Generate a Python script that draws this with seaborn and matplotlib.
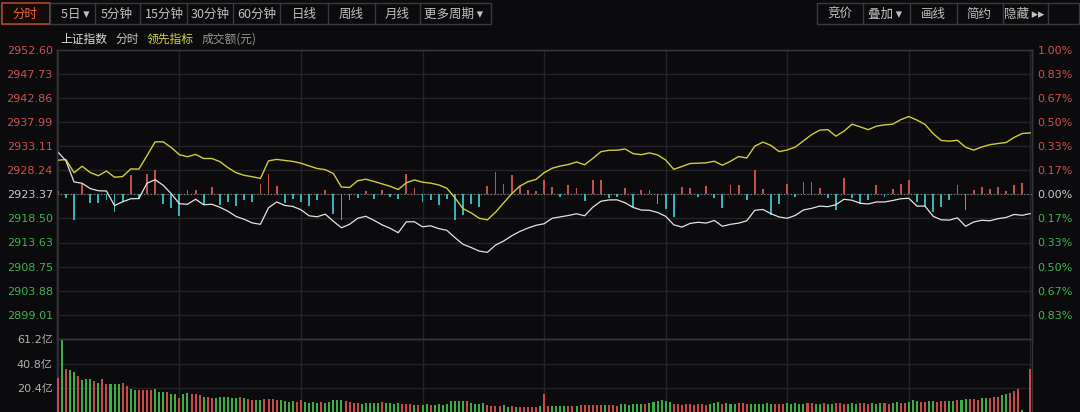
"""
Shanghai Composite intraday (分时) screen: price, leading indicator, force bars and turnover
"""
import numpy as np
import pandas as pd
import matplotlib.pyplot as plt
import seaborn as sns
from matplotlib.patches import Rectangle

BG = '#0b0b0d'
GRID = '#242427'
SPINE = '#343438'
RED = '#cf4f4f'
GREEN = '#3cb44b'

# ---- values ----
prev_close = 2923.37
line_minutes = list(range(0, 241, 2))

price = [2931.92, 2930.14, 2925.86, 2925.59, 2924.52, 2924.08, 2924.02, 2921.09, 2921.85, 2922.46,
         2922.50, 2925.59, 2926.30, 2925.19, 2923.47, 2921.45, 2921.35, 2922.36, 2921.25, 2921.35,
         2920.74, 2919.93, 2918.88, 2918.31, 2917.57, 2917.30, 2920.64, 2921.81, 2921.11, 2920.90,
         2920.24, 2919.02, 2918.82, 2919.35, 2917.91, 2916.60, 2917.30, 2918.52, 2918.92, 2918.11,
         2917.20, 2916.50, 2915.59, 2917.81, 2917.81, 2916.80, 2917.00, 2916.43, 2916.09, 2914.61,
         2913.26, 2912.61, 2911.89, 2911.64, 2913.10, 2913.91, 2914.98, 2915.85, 2916.54, 2917.10,
         2917.41, 2918.52, 2918.80, 2919.08, 2919.43, 2919.02, 2920.74, 2921.95, 2922.22, 2922.24,
         2921.65, 2920.70, 2920.18, 2920.13, 2919.69, 2918.92, 2917.20, 2916.74, 2917.47, 2917.71,
         2917.55, 2918.07, 2916.90, 2917.30, 2917.53, 2918.01, 2920.13, 2920.30, 2919.43, 2918.78,
         2918.52, 2919.10, 2920.20, 2920.52, 2920.98, 2920.86, 2921.25, 2922.36, 2922.16, 2921.55,
         2921.41, 2921.81, 2921.81, 2922.10, 2922.46, 2922.56, 2920.98, 2920.98, 2918.92, 2918.21,
         2918.15, 2918.60, 2916.90, 2917.77, 2918.11, 2918.01, 2918.44, 2918.68, 2919.29, 2919.12,
         2919.47]

lead = [2930.24, 2930.37, 2927.72, 2929.03, 2927.76, 2927.11, 2928.06, 2926.81, 2926.95, 2928.49,
        2928.45, 2931.15, 2933.95, 2933.95, 2932.81, 2931.36, 2930.95, 2931.42, 2930.59, 2930.59,
        2929.96, 2928.73, 2927.72, 2927.19, 2926.91, 2926.56, 2930.12, 2930.41, 2930.20, 2930.00,
        2929.64, 2929.09, 2928.57, 2928.34, 2927.54, 2924.83, 2924.74, 2926.10, 2926.40, 2925.96,
        2925.47, 2924.99, 2924.32, 2925.68, 2926.26, 2925.80, 2925.61, 2925.25, 2924.58, 2922.66,
        2920.46, 2919.61, 2918.52, 2918.21, 2919.73, 2921.61, 2923.45, 2925.01, 2925.90, 2926.36,
        2927.72, 2928.63, 2929.07, 2929.38, 2929.88, 2929.33, 2930.59, 2931.96, 2932.25, 2932.27,
        2932.51, 2931.56, 2931.36, 2931.72, 2931.32, 2930.29, 2928.40, 2928.97, 2929.58, 2929.64,
        2929.72, 2930.04, 2929.23, 2930.04, 2930.99, 2930.69, 2933.08, 2933.90, 2933.22, 2931.98,
        2932.31, 2932.91, 2934.15, 2935.40, 2936.31, 2936.43, 2935.10, 2936.11, 2937.52, 2936.98,
        2936.41, 2937.12, 2937.38, 2937.52, 2938.43, 2939.06, 2938.35, 2937.48, 2935.62, 2934.23,
        2934.09, 2934.27, 2932.87, 2932.29, 2932.91, 2933.38, 2933.62, 2933.82, 2934.85, 2935.64,
        2935.76]

# buy/sell force bars around the previous close, index points
force = [0.6, -0.8, -5.2, 2.0, -1.8, -1.8, -1.2, -3.6, -1.6, 3.8,
         -1.0, 4.0, 4.8, -2.0, -2.8, -4.4, 0.8, 0.8, -2.0, 1.4,
         -2.2, -1.6, -2.4, -1.2, -1.6, 2.0, 4.0, 1.6, -1.8, -1.0,
         -1.6, -2.4, -1.2, 0.8, -4.0, -5.2, -1.2, -0.8, 0.6, -1.0,
         0.8, -0.6, -1.0, 4.0, 1.2, -1.6, -1.2, -2.2, -1.0, -5.2,
         -4.2, -2.0, -2.6, 1.6, 4.4, 2.0, 3.8, 1.6, 0.8, 0.6,
         2.8, 1.4, -0.6, 1.8, 1.2, -1.4, 2.8, 2.8, -0.8, -0.6,
         1.2, -2.6, 0.8, 0.8, -2.0, -3.0, -4.6, 1.4, 1.2, -0.6,
         1.6, -0.8, -2.8, 1.8, 1.8, -1.2, 4.8, 1.0, -4.2, -2.0,
         2.0, -0.6, 2.4, 2.4, 1.2, -0.8, -3.2, 3.2, -0.8, -2.0,
         -1.2, 1.8, -0.6, 1.0, 2.0, 2.8, -1.6, -2.4, -3.6, -2.6,
         -1.2, 1.8, -3.2, 0.8, 1.4, 1.0, 1.4, 0.6, 1.8, 2.2,
         0.0]

# turnover per minute, 亿元
volume = [29.0, 61.2, 36.8, 35.4, 34.0, 30.4, 27.0, 28.5, 28.5, 26.5,
          24.8, 28.5, 23.7, 23.7, 23.7, 23.7, 24.8, 22.0, 20.0, 19.3,
          19.3, 19.3, 19.3, 19.3, 20.0, 17.3, 17.0, 17.3, 15.4, 15.4,
          12.6, 16.0, 16.5, 16.0, 15.4, 14.5, 13.0, 13.0, 12.6, 12.6,
          13.0, 13.6, 13.0, 12.6, 12.6, 13.6, 12.6, 11.5, 11.0, 11.0,
          11.0, 11.8, 11.8, 11.8, 11.0, 10.4, 9.8, 9.5, 9.8, 9.5,
          10.4, 9.5, 8.5, 8.8, 8.5, 9.0, 8.5, 9.0, 10.5, 10.8,
          10.5, 10.2, 8.8, 8.5, 8.5, 7.8, 8.2, 8.2, 8.5, 8.2,
          9.0, 8.0, 8.2, 7.8, 8.0, 7.4, 7.2, 7.6, 6.8, 7.0,
          6.6, 7.2, 6.8, 6.6, 7.4, 7.0, 7.8, 9.6, 10.0, 10.2,
          10.0, 9.8, 8.0, 7.8, 7.6, 8.0, 6.4, 6.2, 6.0, 5.6,
          6.4, 5.0, 5.4, 5.0, 5.2, 4.6, 5.0, 4.8, 4.6, 5.8,
          16.0, 6.0, 5.4, 5.8, 6.2, 5.6, 6.0, 6.2, 6.0, 6.6,
          7.0, 6.8, 7.0, 6.6, 6.8, 7.0, 6.4, 6.8, 6.2, 7.4,
          7.2, 7.0, 7.6, 7.2, 7.8, 7.4, 8.0, 8.8, 10.0, 10.6,
          10.2, 9.4, 7.8, 7.2, 7.0, 7.4, 7.2, 7.0, 7.6, 7.2,
          7.0, 7.8, 8.2, 9.0, 7.6, 8.0, 7.6, 7.4, 8.0, 8.2,
          7.8, 7.6, 7.8, 7.4, 7.8, 8.0, 7.6, 7.4, 7.8, 7.6,
          8.0, 7.8, 8.2, 7.6, 7.8, 8.0, 8.2, 7.6, 7.8, 8.4,
          7.6, 7.8, 8.0, 8.2, 7.8, 7.6, 8.0, 7.8, 8.2, 8.0,
          7.6, 8.0, 7.8, 8.4, 8.0, 7.8, 8.6, 8.8, 8.4, 8.2,
          9.0, 10.5, 9.6, 9.2, 8.8, 9.6, 9.8, 9.4, 9.6, 9.8,
          10.2, 10.0, 10.4, 11.0, 11.4, 11.2, 11.6, 11.0, 12.0, 12.4,
          12.0, 13.0, 13.4, 14.6, 15.8, 16.6, 18.3, 19.7, 2.2, 0.0,
          36.4]

# r = minute closed up, g = minute closed down
vol_dir = ("rgrggrgggr" "grrgggrrgg" "rrrrgggrgg" "rggrrrgrrg" "gggggrgrrg" "grrrrggggr" "r"
           "ggggrggggg" "rrrrgggggr" "ggggrrrgrg" "grgggggggg" "rggggrrrrg" "grgrrrrrgr"
           "rggggrrgrr" "rrrrgrrrgg" "ggggrggggg" "grrrrrrrrr" "gggrgggrrr" "ggggggr"
           "rrgggggrrg" "grggrrrggg" "rrrgggrrgg" "rrgggrrggr" "rrggrggrrr" "ggrrrggrrr" "ggr")

left_buttons = [('分时', 25), ('5日 ▾', 75), ('5分钟', 117), ('15分钟', 164), ('30分钟', 210),
                ('60分钟', 257), ('日线', 304), ('周线', 351), ('月线', 397), ('更多周期 ▾', 454)]
left_seps = [50, 95, 140, 187, 233, 280, 328, 375, 420]
right_buttons = [('竞价', 840), ('叠加 ▾', 885), ('画线', 933), ('简约', 979), ('隐藏 ▸▸', 1024)]
right_seps = [863, 910, 957, 1003, 1048]
legend_items = [('上证指数', 60, '#dcdcdc'), ('分时', 115, '#c4c4c4'),
                ('领先指标', 147, '#d6d23c'), ('成交额(元)', 202, '#969696')]

sns.set_style('dark')
plt.rcParams['font.family'] = ['DejaVu Sans', 'Noto Sans CJK SC']
plt.rcParams['axes.unicode_minus'] = False

W, H = 1080, 412
fig = plt.figure(figsize=(W / 100, H / 100), dpi=100, facecolor=BG)


def px_axes(left, top, right, bottom):
    return fig.add_axes([left / W, 1 - bottom / H, (right - left) / W, (bottom - top) / H])


ax = px_axes(57, 49.5, 1032, 339)
axv = px_axes(57, 339, 1032, 413)
XLIM = (-0.2, 240.4)
session_ticks = [0, 30, 60, 90, 120, 150, 180, 210, 240]

# ---- price panel ----
ks = list(range(6, -6, -1))
levels = [prev_close * (1 + k / 600) for k in ks]
lvl_colors = [RED if k > 0 else (GREEN if k < 0 else '#c8c8c8') for k in ks]

ax.set_facecolor(BG)
ax.set_xlim(*XLIM)
ax.set_ylim(prev_close * 0.99, prev_close * 1.01)
ax.set_xticks(session_ticks)
ax.set_yticks(levels)
ax.set_yticklabels([f'{v:.2f}' for v in levels])
for lab, c in zip(ax.get_yticklabels(), lvl_colors):
    lab.set_color(c)
ax.tick_params(axis='y', length=0, pad=3, labelsize=8)
ax.tick_params(axis='x', length=0, labelbottom=False)
ax.grid(True, color=GRID, lw=1.0)
ax.axhline(prev_close, color='#8c8c8c', lw=0.8, ls=(0, (1, 2)), zorder=2)

force_colors = ['#c4504e' if v > 0 else '#34b4b4' for v in force]
ax.bar(line_minutes, force, bottom=prev_close, width=0.45, color=force_colors,
       edgecolor='none', linewidth=0, antialiased=False, zorder=3)

sns.lineplot(x=line_minutes, y=lead, ax=ax, color='#cfcc3a', linewidth=1.0, zorder=4)
sns.lineplot(x=line_minutes, y=price, ax=ax, color='#e2e2e2', linewidth=0.9, zorder=5)
ax.set_xlabel('')
ax.set_ylabel('')

axr = ax.twinx()
axr.set_ylim(ax.get_ylim())
axr.set_yticks(levels)
axr.set_yticklabels([f'{abs(k) / 6:.2f}%' for k in ks])
for lab, c in zip(axr.get_yticklabels(), lvl_colors):
    lab.set_color(c)
axr.tick_params(axis='y', length=0, pad=4, labelsize=8)
axr.grid(False)

# ---- turnover panel ----
minutes = np.arange(len(volume))
vol_colors = ['#c84a4a' if d == 'r' else '#3cae48' for d in vol_dir]
axv.set_facecolor(BG)
axv.bar(minutes, volume, width=0.5, color=vol_colors, edgecolor='none', linewidth=0,
        antialiased=False, zorder=3)
axv.set_xlim(*XLIM)
axv.set_ylim(0, 61.2)
axv.set_xticks(session_ticks)
axv.set_yticks([20.4, 40.8, 61.2])
axv.set_yticklabels(['20.4亿', '40.8亿', '61.2亿'])
axv.tick_params(axis='y', length=0, pad=3, labelsize=8, colors='#b0b0b0')
axv.tick_params(axis='x', length=0, labelbottom=False)
axv.grid(True, color=GRID, lw=1.0)

for a in (ax, axr, axv):
    for s in a.spines.values():
        s.set_color(SPINE)
        s.set_linewidth(1.0)

# ---- toolbar and legend row ----
axo = fig.add_axes([0, 0, 1, 1], facecolor='none')
axo.set_xlim(0, W)
axo.set_ylim(H, 0)
axo.axis('off')

axo.add_patch(Rectangle((0.5, 2.5), 490, 21.5, fill=False, ec='#3a3a3d', lw=1))
axo.add_patch(Rectangle((1.5, 3), 48, 20.5, fc='#160b08', ec='#a9452b', lw=1.2))
axo.add_patch(Rectangle((817, 2.5), 262, 21.5, fill=False, ec='#3a3a3d', lw=1))
for x in left_seps + right_seps:
    axo.plot([x, x], [3, 24], color='#3a3a3d', lw=1)

for i, (txt, x) in enumerate(left_buttons):
    axo.text(x, 14, txt, ha='center', va='center', fontsize=9,
             color='#e0663e' if i == 0 else '#c0c0c0',
             family=['Noto Sans CJK SC', 'DejaVu Sans'])
for txt, x in right_buttons:
    axo.text(x, 14, txt, ha='center', va='center', fontsize=9, color='#c0c0c0',
             family=['Noto Sans CJK SC', 'DejaVu Sans'])

for txt, x, c in legend_items:
    axo.text(x, 39, txt, ha='left', va='center', fontsize=8.5, color=c,
             family=['Noto Sans CJK SC', 'DejaVu Sans'])

fig.savefig('out.png', dpi=100, facecolor=BG)
